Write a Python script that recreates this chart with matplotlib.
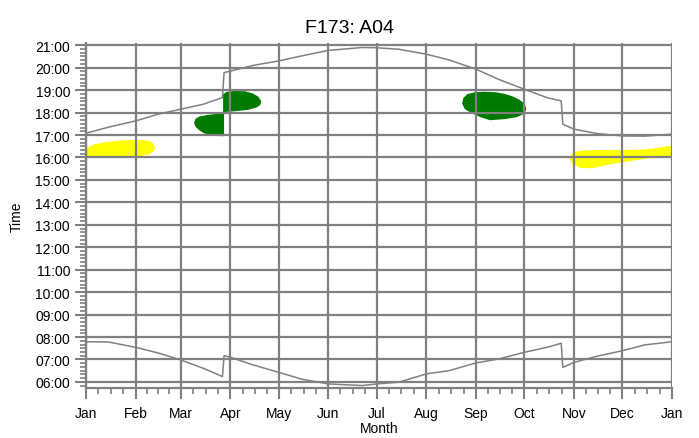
import matplotlib.pyplot as plt
from matplotlib.ticker import FixedLocator, MultipleLocator, FuncFormatter

plt.rcParams['font.family'] = ['Liberation Sans', 'DejaVu Sans']

# month starts (day of year) and names
month_days = [0, 31, 59, 90, 120, 151, 181, 212, 243, 273, 304, 334, 365]
month_names = ['Jan', 'Feb', 'Mar', 'Apr', 'May', 'Jun', 'Jul', 'Aug',
               'Sep', 'Oct', 'Nov', 'Dec', 'Jan']

# sunset curve (day of year, hour)
sunset_day = [0, 14, 31, 45, 59, 73, 85, 86, 90, 104, 120, 134, 151, 172,
              181, 195, 212, 226, 243, 257, 273, 287, 296, 297, 304, 318,
              334, 348, 365]
sunset_hr = [17.08, 17.35, 17.63, 17.93, 18.15, 18.37, 18.67, 19.78, 19.85,
             20.10, 20.30, 20.52, 20.77, 20.90, 20.89, 20.82, 20.60, 20.35,
             19.93, 19.48, 19.04, 18.67, 18.52, 17.48, 17.26, 17.07, 16.96,
             16.95, 17.04]

# sunrise curve (day of year, hour)
sunrise_day = [0, 14, 31, 45, 59, 73, 85, 86, 90, 104, 120, 134, 151, 172,
               181, 195, 212, 226, 243, 257, 273, 287, 296, 297, 304, 318,
               334, 348, 365]
sunrise_hr = [7.79, 7.78, 7.54, 7.29, 6.98, 6.61, 6.24, 7.17, 7.10, 6.76,
              6.43, 6.13, 5.91, 5.84, 5.91, 5.99, 6.36, 6.50, 6.85, 7.02,
              7.32, 7.54, 7.72, 6.65, 6.87, 7.14, 7.39, 7.65, 7.79]

# activity blobs (outline vertices: day, hour)
yellow1_day = [0.6, 0.6, 2.0, 5.0, 11.8, 21.2, 30.0, 36.8, 40.5, 42.5, 43.0,
               42.0, 39.5, 33.6]
yellow1_hr = [16.06, 16.37, 16.48, 16.58, 16.68, 16.76, 16.78, 16.77, 16.70,
              16.58, 16.41, 16.26, 16.14, 16.06]

green1_day = [67.3, 68.2, 70.5, 75.4, 80.0, 86.0, 86.0, 78.5, 73.5, 70.0,
              68.0]
green1_hr = [17.55, 17.72, 17.82, 17.89, 17.93, 17.97, 16.95, 16.96, 17.08,
             17.24, 17.40]

green2_day = [85.4, 85.4, 87.5, 92.0, 99.1, 104.0, 107.5, 109.2, 108.5,
              106.0, 100.9, 92.8]
green2_hr = [18.02, 18.82, 18.92, 18.96, 18.95, 18.85, 18.70, 18.50, 18.33,
              18.22, 18.12, 18.06]

green3_day = [234.3, 235.0, 237.5, 242.4, 248.0, 254.8, 260.5, 265.4, 269.8,
              273.2, 274.3, 273.0, 268.5, 261.1, 251.7, 245.5, 240.0, 236.0]
green3_hr = [18.40, 18.65, 18.82, 18.91, 18.93, 18.91, 18.84, 18.73, 18.58,
             18.40, 18.15, 17.95, 17.80, 17.71, 17.66, 17.80, 17.98, 18.15]

yellow2_day = [300.9, 302.0, 305.0, 310.9, 320.0, 332.7, 345.0, 351.4,
               358.0, 362.5, 365.0, 365.0, 351.4, 338.9, 326.5, 315.3,
               308.0, 303.5]
yellow2_hr = [15.93, 16.12, 16.26, 16.32, 16.33, 16.33, 16.35, 16.38,
              16.45, 16.50, 16.52, 16.06, 15.97, 15.84, 15.70, 15.52,
              15.53, 15.68]

grey = '#808080'
yellow = '#ffff00'
green = '#007a00'

fig = plt.figure(figsize=(6.99, 4.39), dpi=100)
ax = fig.add_axes([86 / 699, 1 - 389 / 439, 586 / 699, 345 / 439])

ax.fill(yellow1_day, yellow1_hr, color=yellow, lw=0, zorder=1)
ax.fill(yellow2_day, yellow2_hr, color=yellow, lw=0, zorder=1)
ax.fill(green1_day, green1_hr, color=green, lw=0, zorder=1)
ax.fill(green2_day, green2_hr, color=green, lw=0, zorder=1)
ax.fill(green3_day, green3_hr, color=green, lw=0, zorder=1)

ax.plot(sunset_day, sunset_hr, color=grey, lw=1.1, zorder=3)
ax.plot(sunrise_day, sunrise_hr, color=grey, lw=1.1, zorder=3)

ax.set_xlim(0, 365)
ax.set_ylim(5.73, 21.1)

# x ticks: month starts, minor at quarter months
ax.xaxis.set_major_locator(FixedLocator(month_days))
ax.set_xticklabels(month_names)
minor_x = []
for a, b in zip(month_days[:-1], month_days[1:]):
    for k in (1, 2, 3):
        minor_x.append(a + (b - a) * k / 4)
ax.xaxis.set_minor_locator(FixedLocator(minor_x))

# y ticks: hours, minor every 10 minutes
ax.yaxis.set_major_locator(FixedLocator(list(range(6, 22))))
ax.yaxis.set_minor_locator(MultipleLocator(1 / 6))
ax.yaxis.set_major_formatter(FuncFormatter(lambda v, p: f'{int(round(v)):02d}:00'))

ax.grid(True, which='major', color=grey, lw=1.6, zorder=2)
ax.set_axisbelow(False)
for s in ('top', 'right'):
    ax.spines[s].set_visible(False)
for s in ('left', 'bottom'):
    ax.spines[s].set_color(grey)
    ax.spines[s].set_linewidth(1.6)

ax.tick_params(which='major', direction='out', length=8, width=1.5,
               color=grey, labelsize=10, labelcolor='black')
ax.tick_params(which='minor', direction='out', length=4, width=1.2,
               color=grey)
ax.tick_params(axis='x', pad=5)

ax.set_xlabel('Month', fontsize=10, labelpad=1)
ax.set_ylabel('Time', fontsize=10, labelpad=8)
fig.suptitle('F173: A04', fontsize=14, y=0.955)

fig.savefig('out.png', dpi=100)
